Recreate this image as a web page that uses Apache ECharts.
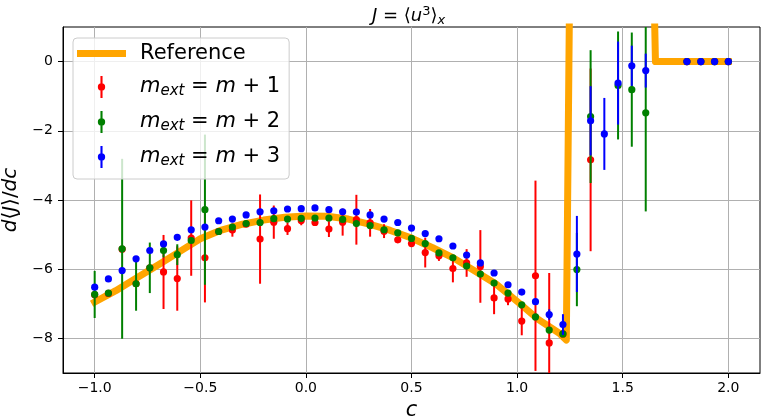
<!DOCTYPE html>
<html>
<head>
<meta charset="utf-8">
<script src="https://cdn.jsdelivr.net/npm/echarts@6/dist/echarts.min.js"></script>
<style>
  html, body { margin: 0; padding: 0; background: #fff; }
  #chart { width: 762px; height: 420px; }
</style>
</head>
<body>
<div id="chart"></div>
<script>
// sample points c
var cValues = [-1.0, -0.935, -0.870, -0.804, -0.739, -0.674, -0.609, -0.543, -0.478, -0.413,
  -0.348, -0.283, -0.217, -0.152, -0.087, -0.022, 0.043, 0.109, 0.174, 0.239,
  0.304, 0.370, 0.435, 0.500, 0.565, 0.630, 0.696, 0.761, 0.826, 0.891,
  0.957, 1.022, 1.087, 1.152, 1.217, 1.283, 1.348, 1.413, 1.478, 1.543,
  1.609, 1.674, 1.739, 1.804, 1.870, 1.935, 2.000];

// m_ext = m + 1
var redVal = [-6.74, -6.70, -5.42, -6.42, -5.96, -6.08, -6.27, -5.10, -5.67, -4.91,
  -4.87, -4.70, -5.13, -4.64, -4.83, -4.59, -4.65, -4.84, -4.64, -4.57,
  -4.66, -4.90, -5.15, -5.26, -5.52, -5.61, -5.98, -5.82, -5.92, -6.83,
  -6.86, -7.50, -6.19, -8.13, -7.87, null, -2.84, null, null, null,
  null, null, null, 0, 0, 0, 0];
var redErr = [0.05, 0.05, 0.05, 0.05, 0.05, 1.07, 0.93, 1.09, 1.29, 0.05,
  0.19, 0.05, 1.29, 0.48, 0.18, 0.14, 0.08, 0.23, 0.39, 0.72,
  0.40, 0.20, 0.08, 0.08, 0.43, 0.15, 0.40, 0.40, 1.05, 0.47,
  0.18, 0.41, 2.75, 2.02, 0.10, null, 2.64, null, null, null,
  null, null, null, 0.02, 0.02, 0.02, 0.02];

// m_ext = m + 2
var greenVal = [-6.73, -6.69, -5.41, -6.42, -5.96, -5.46, -5.58, -5.17, -4.28, -4.91,
  -4.78, -4.68, -4.65, -4.54, -4.55, -4.53, -4.52, -4.52, -4.56, -4.68,
  -4.74, -4.86, -4.95, -5.11, -5.26, -5.53, -5.67, -5.91, -6.14, -6.40,
  -6.69, -7.03, -7.38, -7.76, -7.87, -6.01, -1.59, null, -0.69, -0.81,
  -1.48, null, null, 0, 0, 0, 0];
var greenErr = [0.68, 0.08, 2.60, 0.78, 0.73, 0.20, 0.30, 0.08, 2.17, 0.05,
  0.05, 0.05, 0.05, 0.05, 0.05, 0.05, 0.05, 0.05, 0.05, 0.05,
  0.05, 0.05, 0.05, 0.05, 0.05, 0.05, 0.05, 0.05, 0.05, 0.05,
  0.05, 0.05, 0.05, 0.05, 0.05, 1.06, 1.92, null, 1.56, 1.65,
  2.85, null, null, 0.02, 0.02, 0.02, 0.02];

// m_ext = m + 3
var blueVal = [-6.52, -6.28, -6.04, -5.70, -5.46, -5.27, -5.08, -4.86, -4.78, -4.60,
  -4.55, -4.43, -4.34, -4.31, -4.26, -4.25, -4.23, -4.28, -4.34, -4.35,
  -4.43, -4.55, -4.65, -4.81, -4.97, -5.12, -5.33, -5.59, -5.82, -6.11,
  -6.45, -6.66, -6.94, -7.31, -7.60, -5.56, -1.71, -2.09, -0.62, -0.12,
  -0.26, null, null, 0, 0, 0, 0];
var blueErr = [0.05, 0.05, 0.05, 0.05, 0.05, 0.05, 0.05, 0.05, 0.05, 0.05,
  0.05, 0.05, 0.05, 0.05, 0.05, 0.05, 0.05, 0.05, 0.05, 0.05,
  0.05, 0.05, 0.05, 0.05, 0.05, 0.05, 0.05, 0.05, 0.05, 0.05,
  0.05, 0.05, 0.05, 0.15, 0.30, 1.10, 1.00, 1.04, 1.20, 0.58,
  0.49, null, null, 0.02, 0.02, 0.02, 0.02];

// reference curve (null = gap, the curve leaves the plot above)
var refC = [-1.0, -0.9, -0.8, -0.7, -0.6, -0.5, -0.4, -0.3, -0.2, -0.1,
  0.0, 0.1, 0.2, 0.3, 0.4, 0.5, 0.6, 0.7, 0.8, 0.9,
  1.0, 1.1, 1.2, 1.233, 1.25, 1.45, 1.645, 1.655, 2.0];
var refY = [-6.95, -6.62, -6.25, -5.88, -5.50, -5.12, -4.87, -4.70, -4.58, -4.50,
  -4.46, -4.47, -4.55, -4.70, -4.88, -5.10, -5.38, -5.68, -6.05, -6.43,
  -6.93, -7.45, -7.85, -8.05, 3, null, 3, 0, 0];

var xTicks = [-1.0, -0.5, 0.0, 0.5, 1.0, 1.5, 2.0];
var yTicks = [-8, -6, -4, -2, 0];

var FONT = 'DejaVu Sans';

function minus(s) { return String(s).replace('-', '\u2212'); }

function errorbarSeries(name, color, vals, errs) {
  var data = [];
  for (var i = 0; i < cValues.length; i++) {
    if (vals[i] !== null) data.push([cValues[i], vals[i], errs[i]]);
  }
  return {
    name: name,
    type: 'custom',
    clip: true,
    z: 3,
    itemStyle: { color: color },
    data: data,
    renderItem: function (params, api) {
      var x = api.value(0), y = api.value(1), e = api.value(2);
      var top = api.coord([x, y + e]);
      var bot = api.coord([x, y - e]);
      var p = api.coord([x, y]);
      return {
        type: 'group',
        children: [
          { type: 'line', shape: { x1: top[0], y1: top[1], x2: bot[0], y2: bot[1] },
            style: { stroke: color, lineWidth: 2 } },
          { type: 'circle', shape: { cx: p[0], cy: p[1], r: 3.6 },
            style: { fill: color } }
        ]
      };
    }
  };
}

var refData = refC.map(function (c, i) { return [c, refY[i] === null ? '-' : refY[i]]; });

var errIcon = 'path://M2.5,0H4.5V21H2.5Z M0,10.5A3.5,3.5,0,1,1,7,10.5A3.5,3.5,0,1,1,0,10.5Z';
var legendText = {
  ref: '{t|Reference}',
  m1: '{i|m}{s|ext}{t| = }{i|m}{t| + 1}',
  m2: '{i|m}{s|ext}{t| = }{i|m}{t| + 2}',
  m3: '{i|m}{s|ext}{t| = }{i|m}{t| + 3}'
};

var chart = echarts.init(document.getElementById('chart'));
chart.setOption({
  animation: false,
  backgroundColor: '#fff',
  textStyle: { fontFamily: FONT },
  title: {
    text: '{i|J}{t| = \u27e8}{i|u}{sup|3}{t|\u27e9}{sub|x}',
    left: 367,
    top: 0,
    textStyle: {
      fontWeight: 'normal',
      rich: {
        t: { fontFamily: FONT, fontSize: 18, fontWeight: 'normal', color: '#000', lineHeight: 22 },
        i: { fontFamily: FONT, fontSize: 18, fontWeight: 'normal', fontStyle: 'italic', color: '#000', lineHeight: 22 },
        sup: { fontFamily: FONT, fontSize: 13, fontWeight: 'normal', color: '#000', lineHeight: 15, verticalAlign: 'top' },
        sub: { fontFamily: FONT, fontSize: 13, fontWeight: 'normal', fontStyle: 'italic', color: '#000', lineHeight: 15, verticalAlign: 'bottom' }
      }
    }
  },
  legend: {
    orient: 'vertical',
    left: 73,
    top: 38,
    padding: [5, 9, 10, 4],
    itemWidth: 49,
    itemHeight: 22,
    itemGap: 12,
    symbolKeepAspect: true,
    backgroundColor: 'rgba(255,255,255,0.8)',
    borderColor: '#cccccc',
    borderWidth: 1,
    borderRadius: 4,
    itemStyle: { borderWidth: 0 },
    data: [
      { name: 'ref', icon: 'path://M0,0H49V7H0Z' },
      { name: 'm1', icon: errIcon },
      { name: 'm2', icon: errIcon },
      { name: 'm3', icon: errIcon }
    ],
    formatter: function (name) { return legendText[name]; },
    textStyle: {
      padding: [0, 0, 0, 9],
      rich: {
        t: { fontFamily: FONT, fontSize: 21, color: '#000', lineHeight: 24 },
        i: { fontFamily: FONT, fontSize: 21, fontStyle: 'italic', color: '#000', lineHeight: 24 },
        s: { fontFamily: FONT, fontSize: 15, fontStyle: 'italic', color: '#000', lineHeight: 17, verticalAlign: 'bottom' }
      }
    }
  },
  grid: {
    left: 63, right: 2, top: 27, bottom: 47,
    outerBoundsMode: 'none',
    containLabel: false,
    show: true, borderColor: '#000', borderWidth: 1
  },
  xAxis: {
    type: 'value',
    min: -1.15,
    max: 2.15,
    name: 'c',
    nameLocation: 'middle',
    nameGap: 24,
    nameTextStyle: { fontFamily: FONT, fontSize: 21, fontStyle: 'italic', color: '#000' },
    axisLine: { show: true, onZero: false, lineStyle: { color: '#000', width: 1 } },
    axisTick: { show: true, length: 5, customValues: xTicks, lineStyle: { color: '#000' } },
    axisLabel: {
      customValues: xTicks, margin: 8, fontSize: 14, color: '#000', fontFamily: FONT,
      formatter: function (v) { return minus(v.toFixed(1)); }
    },
    splitLine: { show: true, lineStyle: { color: '#b0b0b0', width: 1 } }
  },
  yAxis: {
    type: 'value',
    min: -9,
    max: 1,
    name: '{i|d}{t|\u27e8}{i|J}{t|\u27e9/}{i|dc}',
    nameLocation: 'middle',
    nameGap: 42,
    nameRotate: 90,
    nameTextStyle: {
      rich: {
        t: { fontFamily: FONT, fontSize: 20, color: '#000' },
        i: { fontFamily: FONT, fontSize: 20, fontStyle: 'italic', color: '#000' }
      }
    },
    axisLine: { show: true, onZero: false, lineStyle: { color: '#000', width: 1 } },
    axisTick: { show: true, length: 5, customValues: yTicks, lineStyle: { color: '#000' } },
    axisLabel: {
      customValues: yTicks, margin: 10, fontSize: 14, color: '#000', fontFamily: FONT,
      formatter: function (v) { return minus(Math.round(v)); }
    },
    splitLine: { show: true, lineStyle: { color: '#b0b0b0', width: 1 } }
  },
  series: [
    {
      name: 'ref',
      type: 'line',
      z: 1,
      data: refData,
      showSymbol: false,
      symbol: 'none',
      color: '#ffa500',
      connectNulls: false,
      clip: true,
      lineStyle: { color: '#ffa500', width: 7, cap: 'square', join: 'round' }
    },
    errorbarSeries('m1', '#ff0000', redVal, redErr),
    errorbarSeries('m2', '#008000', greenVal, greenErr),
    errorbarSeries('m3', '#0000ff', blueVal, blueErr)
  ]
});
</script>
</body>
</html>
